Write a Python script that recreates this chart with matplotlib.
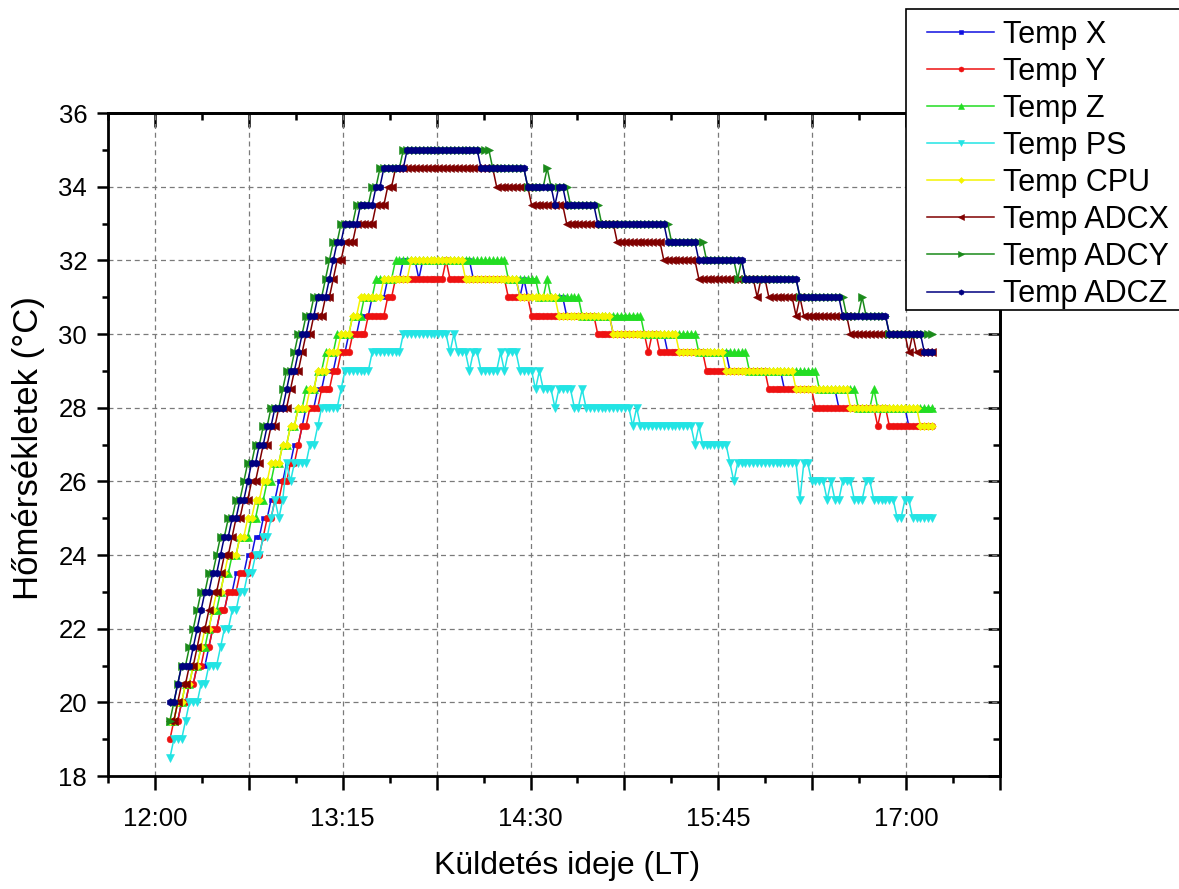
import numpy as np
import matplotlib
matplotlib.use("Agg")
import matplotlib.pyplot as plt
from matplotlib.ticker import FixedLocator, FuncFormatter
from matplotlib.patches import Rectangle

plt.rcParams['font.family'] = ['Liberation Sans', 'DejaVu Sans']

# Sampling window (minutes after midnight, local time)
T_FIRST = 12 * 60 + 6.0
T_LAST = 17 * 60 + 10.4
N_SAMPLES = 197

# Each channel is stored as (sample index where the reading changes, new reading in degC)
x_idx = [0, 3, 5, 7, 10, 11, 13, 15, 17, 20, 22, 24, 26, 28, 30, 32, 34, 35, 38, 40,
         43, 46, 49, 52, 56, 60, 64, 65, 78, 90, 91, 92, 102, 114, 128, 144, 158, 172, 190]
x_val = [19.5, 20, 20.5, 21, 21.5, 22, 22.5, 23, 23.5, 24, 24.5, 25, 25.5, 26, 26.5, 27, 27.5, 28, 28.5, 29,
         29.5, 30, 30.5, 31, 31.5, 32, 31.5, 32, 31.5, 31, 31.5, 31, 30.5, 30, 29.5, 29, 28.5, 28, 27.5]

y_idx = [0, 1, 3, 5, 7, 9, 11, 13, 15, 18, 21, 24, 25, 27, 29, 31, 33, 34, 36, 39,
         42, 44, 47, 51, 56, 58, 71, 72, 87, 93, 110, 123, 124, 126, 138, 154, 166, 182, 183, 185]
y_val = [19, 19.5, 20, 20.5, 21, 21.5, 22, 22.5, 23, 23.5, 24, 24.5, 25, 25.5, 26, 26.5, 27, 27.5, 28, 28.5,
         29, 29.5, 30, 30.5, 31, 31.5, 32, 31.5, 31, 30.5, 30, 29.5, 30, 29.5, 29, 28.5, 28, 27.5, 28, 27.5]

z_idx = [0, 2, 4, 6, 8, 10, 11, 13, 14, 16, 18, 21, 23, 25, 27, 29, 31, 33, 35, 38,
         40, 43, 47, 50, 53, 58, 87, 95, 97, 98, 106, 122, 136, 149, 167, 177, 181, 182]
z_val = [19.5, 20, 20.5, 21, 21.5, 22, 22.5, 23, 23.5, 24, 24.5, 25, 25.5, 26, 26.5, 27, 27.5, 28, 28.5, 29,
         29.5, 30, 30.5, 31, 31.5, 32, 31.5, 31, 31.5, 31, 30.5, 30, 29.5, 29, 28.5, 28, 28.5, 28]

ps_idx = [0, 1, 4, 5, 8, 10, 13, 14, 16, 18, 20, 22, 24, 26, 27, 28, 29, 30, 31, 32,
          36, 38, 39, 44, 45, 52, 60, 72, 73, 74, 77, 78, 80, 85, 86, 87, 90, 94, 95, 96,
          99, 100, 104, 106, 107, 119, 120, 121, 135, 136, 137, 144, 145, 146, 162, 163, 165, 169, 170, 171,
          173, 176, 179, 181, 187, 189, 191]
ps_val = [18.5, 19, 19.5, 20, 20.5, 21, 21.5, 22, 22.5, 23, 23.5, 24, 24.5, 25, 25.5, 25, 25.5, 26.5, 26, 26.5,
          27, 27.5, 28, 28.5, 29, 29.5, 30, 29.5, 30, 29.5, 29, 29.5, 29, 29.5, 29, 29.5, 29, 28.5, 29, 28.5,
          28, 28.5, 28, 28.5, 28, 27.5, 28, 27.5, 27, 27.5, 27, 26.5, 26, 26.5, 25.5, 26.5, 26, 25.5, 26, 25.5,
          26, 25.5, 26, 25.5, 25, 25.5, 25]

cpu_idx = [0, 2, 4, 6, 8, 9, 11, 12, 14, 15, 18, 20, 22, 24, 26, 29, 31, 33, 36, 38,
           41, 44, 47, 49, 55, 62, 76, 90, 100, 114, 131, 143, 161, 175, 193]
cpu_val = [19.5, 20, 20.5, 21, 21.5, 22, 22.5, 23, 23.5, 24, 24.5, 25, 25.5, 26, 26.5, 27, 27.5, 28, 28.5, 29,
           29.5, 30, 30.5, 31, 31.5, 32, 31.5, 31, 30.5, 30, 29.5, 29, 28.5, 28, 27.5]

adcx_idx = [0, 2, 3, 5, 7, 8, 10, 11, 13, 14, 16, 17, 19, 21, 23, 24, 26, 28, 31, 32,
            34, 35, 37, 40, 42, 43, 45, 48, 53, 56, 58, 84, 93, 102, 115, 127, 136, 151, 152, 154,
            161, 162, 163, 175, 190, 191, 192]
adcx_val = [19.5, 20, 20.5, 21, 21.5, 22, 22.5, 23, 23.5, 24, 24.5, 25, 25.5, 26, 26.5, 27, 27.5, 28, 28.5, 29,
            29.5, 30, 30.5, 31, 31.5, 32, 32.5, 33, 33.5, 34, 34.5, 34, 33.5, 33, 32.5, 32, 31.5, 31, 31.5, 31,
            30.5, 31, 30.5, 30, 29.5, 30, 29.5]

adcy_idx = [0, 1, 2, 3, 5, 6, 7, 8, 10, 12, 13, 15, 17, 19, 20, 22, 24, 26, 29, 30,
            32, 33, 35, 37, 40, 41, 42, 44, 48, 52, 54, 60, 83, 92, 97, 98, 103, 111, 129, 138,
            146, 147, 148, 162, 174, 178, 179, 185]
adcy_val = [19.5, 20, 20.5, 21, 21.5, 22, 22.5, 23, 23.5, 24, 24.5, 25, 25.5, 26, 26.5, 27, 27.5, 28, 28.5, 29,
            29.5, 30, 30.5, 31, 31.5, 32, 32.5, 33, 33.5, 34, 34.5, 35, 34.5, 34, 34.5, 34, 33.5, 33, 32.5, 32,
            31.5, 32, 31.5, 31, 30.5, 31, 30.5, 30]

adcz_idx = [0, 2, 3, 6, 7, 8, 9, 11, 13, 14, 16, 18, 20, 21, 23, 25, 27, 30, 31, 33,
            34, 36, 38, 41, 42, 43, 45, 49, 53, 55, 61, 80, 92, 99, 100, 102, 110, 128, 136, 148,
            162, 173, 185, 194]
adcz_val = [20, 20.5, 21, 21.5, 22, 22.5, 23, 23.5, 24, 24.5, 25, 25.5, 26, 26.5, 27, 27.5, 28, 28.5, 29, 29.5,
            30, 30.5, 31, 31.5, 32, 32.5, 33, 33.5, 34, 34.5, 35, 34.5, 34, 33.5, 34, 33.5, 33, 32.5, 32, 31.5,
            31, 30.5, 30, 29.5]

labels = ["Temp X", "Temp Y", "Temp Z", "Temp PS", "Temp CPU", "Temp ADCX", "Temp ADCY", "Temp ADCZ"]


def expand(idx, val, n=N_SAMPLES):
    """Turn change points into one reading per sample."""
    counts = np.diff(list(idx) + [n])
    return np.repeat(np.asarray(val, dtype=float), counts)


t = np.linspace(T_FIRST, T_LAST, N_SAMPLES)

channels = [
    (x_idx, x_val, '#1010e0', 's', 3.4),
    (y_idx, y_val, '#ee1111', 'o', 4.8),
    (z_idx, z_val, '#22dd22', '^', 5.2),
    (ps_idx, ps_val, '#22e4e4', 'v', 5.2),
    (cpu_idx, cpu_val, '#f4f400', 'D', 4.0),
    (adcx_idx, adcx_val, '#800000', '<', 5.2),
    (adcy_idx, adcy_val, '#1a8a1a', '>', 5.2),
    (adcz_idx, adcz_val, '#000080', 'h', 5.2),
]

W, H = 1179, 889
fig = plt.figure(figsize=(W / 100, H / 100), dpi=100)
ax = fig.add_axes([108 / W, 1 - 776 / H, (1000 - 108) / W, (776 - 113) / H])

for (idx, val, color, marker, ms), lab in zip(channels, labels):
    ax.plot(t, expand(idx, val), color=color, lw=1.1, marker=marker, ms=ms,
            mfc=color, mec=color, mew=0.4, label=lab)

# axis ranges and ticks
x_lo, x_hi = 11 * 60 + 41.25, 17 * 60 + 37.5
ax.set_xlim(x_lo, x_hi)
ax.set_ylim(18, 36)

x_major = np.arange(12 * 60, x_hi + 0.1, 37.5)
x_minor = np.arange(x_lo, x_hi + 0.1, 18.75)
y_major = np.arange(18, 36.1, 2)
y_minor = np.arange(18, 36.1, 1)


def hhmm(v, pos=None):
    k = (v - 12 * 60) / 75.0
    if abs(k - round(k)) < 1e-6:
        return f"{int(v // 60)}:{int(round(v % 60)):02d}"
    return ""


ax.xaxis.set_major_locator(FixedLocator(x_major))
ax.xaxis.set_minor_locator(FixedLocator(x_minor))
ax.xaxis.set_major_formatter(FuncFormatter(hhmm))
ax.yaxis.set_major_locator(FixedLocator(y_major))
ax.yaxis.set_minor_locator(FixedLocator(y_minor))
ax.yaxis.set_major_formatter(FuncFormatter(lambda v, p: f"{int(v)}"))

ax.tick_params(which='both', direction='out', width=1.8, labelsize=18.5)
ax.tick_params(axis='x', which='major', length=10, pad=12)
ax.tick_params(axis='x', which='minor', length=5)
ax.tick_params(axis='y', which='major', length=8, pad=7)
ax.tick_params(axis='y', which='minor', length=4)

for sp in ax.spines.values():
    sp.set_linewidth(2.0)

ax.grid(True, which='major', color='#7a7a7a', lw=0.9, ls=(0, (4, 3)))

# mirrored ticks on top and right point inwards
top = ax.secondary_xaxis('top')
top.xaxis.set_major_locator(FixedLocator(x_major))
top.xaxis.set_minor_locator(FixedLocator(x_minor))
top.tick_params(which='both', direction='in', width=1.8, labeltop=False)
top.tick_params(which='major', length=10)
top.tick_params(which='minor', length=5)
top.spines['top'].set_linewidth(2.0)

right = ax.secondary_yaxis('right')
right.yaxis.set_major_locator(FixedLocator(y_major))
right.yaxis.set_minor_locator(FixedLocator(y_minor))
right.tick_params(which='both', direction='in', width=1.8, labelright=False)
right.tick_params(which='major', length=9)
right.tick_params(which='minor', length=5)
right.spines['right'].set_linewidth(2.0)

fig.text(567 / W, 1 - 866 / H, "Küldetés ideje (LT)", fontsize=23, ha='center', va='center')
fig.text(29 / W, 1 - 448 / H, "Hőmérsékletek (°C)", fontsize=25, ha='center', va='center',
         rotation=90)

# legend box
fig.patches.append(Rectangle((906 / W, 1 - 310 / H), (1200 - 906) / W, (310 - 9) / H,
                             transform=fig.transFigure, facecolor='white', edgecolor='black',
                             lw=1.2, zorder=4))
handles, labs = ax.get_legend_handles_labels()
leg = fig.legend(handles, labs, loc='upper left', bbox_to_anchor=(927 / W, 1 - 20 / H),
                 frameon=False, fontsize=22, handlelength=2.2, handletextpad=0.3,
                 labelspacing=0.23, borderpad=0, borderaxespad=0, numpoints=1, markerscale=0.75)
leg.set_zorder(5)

fig.savefig("out.png", dpi=100)
